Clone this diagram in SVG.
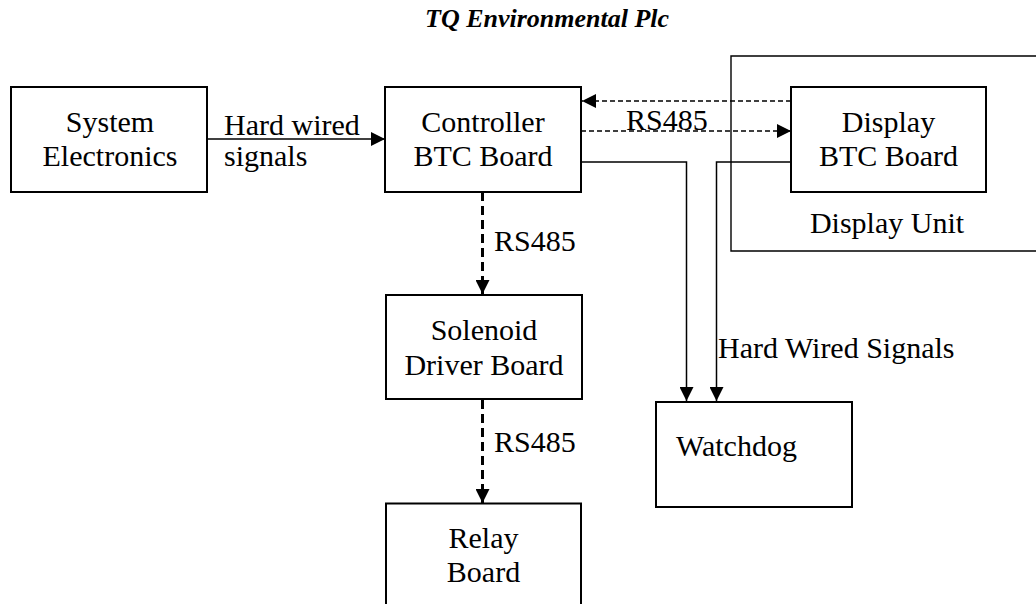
<svg xmlns="http://www.w3.org/2000/svg" width="1036" height="604" viewBox="0 0 1036 604">
<style>
.box{fill:#fff;stroke:#000;stroke-width:2}
.t{font-family:"Liberation Serif","Times New Roman",serif;font-size:30px;fill:#000}
.c{text-anchor:middle}
.solid{fill:none;stroke:#000;stroke-width:1.5}
.dashv{fill:none;stroke:#000;stroke-width:3;stroke-dasharray:9 5}
.dashh{fill:none;stroke:#000;stroke-width:1.5;stroke-dasharray:5 3}
.title{font-family:"Liberation Serif","Times New Roman",serif;font-size:26px;font-weight:bold;font-style:italic;fill:#000}
</style>
<defs>
<marker id="ah" viewBox="0 0 14 14" refX="14" refY="7" markerWidth="14" markerHeight="14" markerUnits="userSpaceOnUse" orient="auto">
<path d="M0,0 L14,7 L0,14 Z" fill="#000"/>
</marker>
</defs>
<rect width="1036" height="604" fill="#fff"/>
<text class="title" x="425" y="27">TQ Environmental Plc</text>

<g id="display-unit">
<path d="M1040,56 L731,56 L731,251 L1040,251" fill="none" stroke="#000" stroke-width="1.4"/>
<text class="t c" x="887" y="233">Display Unit</text>
</g>

<g id="connectors">
<path class="solid" d="M207,139 L385,139" marker-end="url(#ah)"/>
<path class="dashh" d="M791,101 L582,101" marker-end="url(#ah)"/>
<path class="dashh" d="M581,131 L791,131" marker-end="url(#ah)"/>
<path class="solid" d="M581,162 L686.5,162 L686.5,401" marker-end="url(#ah)"/>
<path class="solid" d="M791,162 L716.5,162 L716.5,401" marker-end="url(#ah)"/>
<path class="dashv" d="M482.5,192 L482.5,294" marker-end="url(#ah)"/>
<path class="dashv" d="M482.5,400 L482.5,503" marker-end="url(#ah)"/>
<text class="t" x="224" y="135">Hard wired</text>
<text class="t" x="224" y="166">signals</text>
<text class="t" x="626" y="130">RS485</text>
<text class="t" x="494" y="251">RS485</text>
<text class="t" x="494" y="452">RS485</text>
<text class="t" x="718" y="358">Hard Wired Signals</text>
</g>

<g id="system-electronics">
<rect class="box" x="11" y="87" width="196" height="105"/>
<text class="t c" x="110" y="132">System</text>
<text class="t c" x="110" y="166">Electronics</text>
</g>

<g id="controller">
<rect class="box" x="385" y="87" width="196" height="105"/>
<text class="t c" x="483" y="132">Controller</text>
<text class="t c" x="483" y="166">BTC Board</text>
</g>

<g id="display-btc">
<rect class="box" x="791" y="87" width="195" height="105"/>
<text class="t c" x="888.5" y="132">Display</text>
<text class="t c" x="888.5" y="166">BTC Board</text>
</g>

<g id="solenoid">
<rect class="box" x="386" y="295" width="196" height="104"/>
<text class="t c" x="484" y="340">Solenoid</text>
<text class="t c" x="484" y="375">Driver Board</text>
</g>

<g id="relay">
<rect class="box" x="386" y="503.5" width="195" height="110"/>
<text class="t c" x="483.5" y="548">Relay</text>
<text class="t c" x="483.5" y="582">Board</text>
</g>

<g id="watchdog">
<rect class="box" x="656" y="402" width="196" height="105"/>
<text class="t" x="676" y="456">Watchdog</text>
</g>
</svg>
